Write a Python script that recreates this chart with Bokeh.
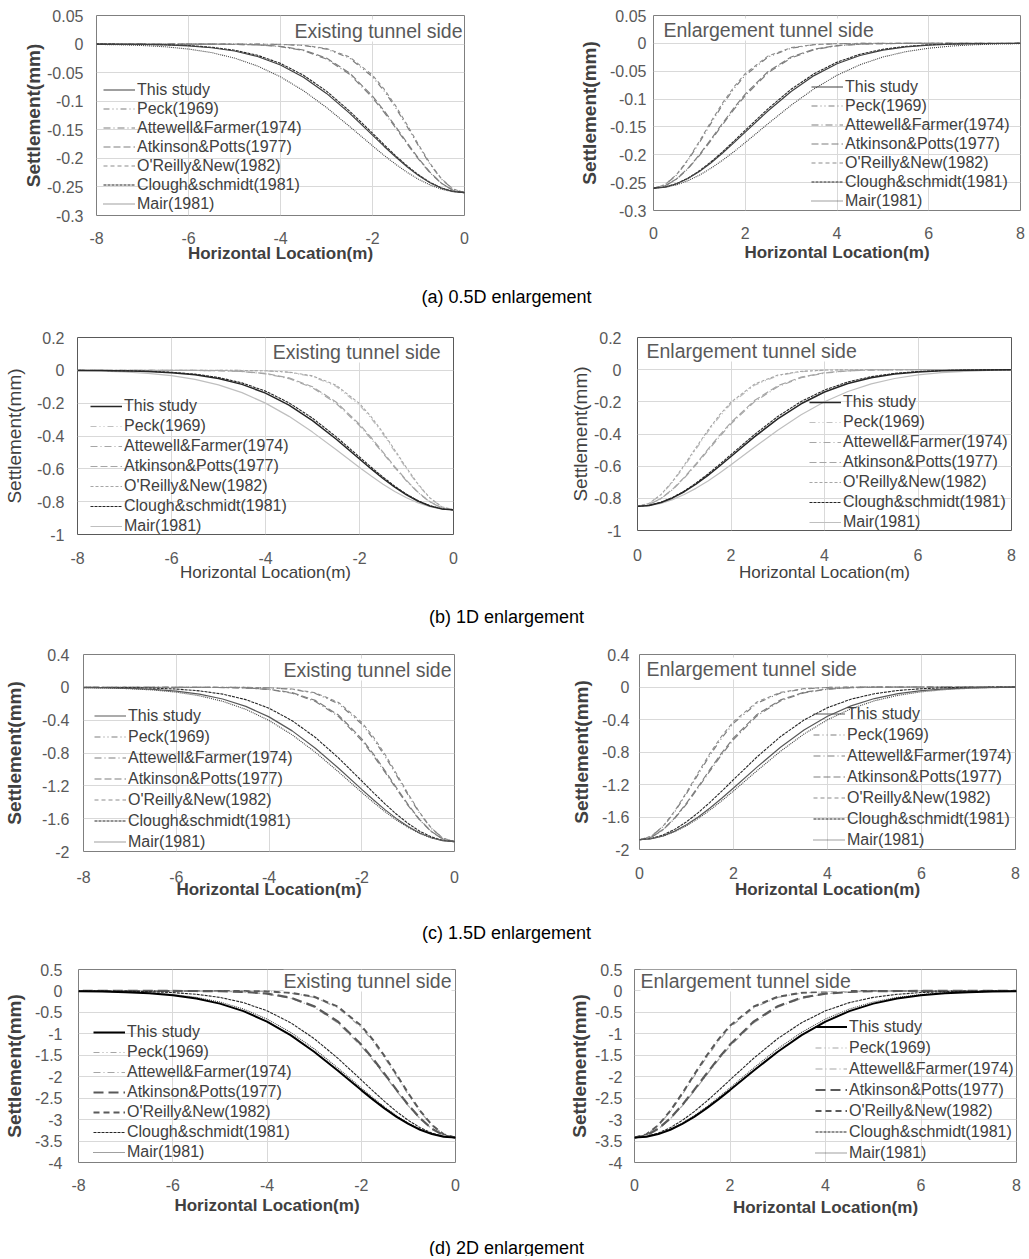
from bokeh.plotting import figure
from bokeh.models import Range1d, FixedTicker, CustomJSTickFormatter, Legend, LegendItem, Label
from bokeh.layouts import column, row
from bokeh.embed import file_html
from bokeh.resources import INLINE

# ---------------- data ----------------
# horizontal distance from the tunnel centre (m); left panels use -x
X_M = [0, 0.25, 0.5, 0.75, 1, 1.25, 1.5, 1.75, 2, 2.5, 3, 3.5, 4, 4.5, 5, 5.5, 6, 6.5, 7, 7.5, 8]

SERIES = ["This study", "Peck(1969)", "Attewell&Farmer(1974)", "Atkinson&Potts(1977)",
          "O'Reilly&New(1982)", "Clough&schmidt(1981)", "Mair(1981)"]

# (a) 0.5D enlargement
A_THIS = [-0.26, -0.2580, -0.2521, -0.2427, -0.2301, -0.2147, -0.1973, -0.1787, -0.1593, -0.1209, -0.0863, -0.0579, -0.0366, -0.0218, -0.0121, -0.0064, -0.0031, -0.0015, -0.0006, -0.0003, -0.0001]
A_PECK = [-0.26, -0.2539, -0.2366, -0.2102, -0.1781, -0.1440, -0.1110, -0.0817, -0.0572, -0.0244, -0.0087, -0.0025, -0.0006, -0.0001, 0, 0, 0, 0, 0, 0, 0]
A_ATTEWELL = [-0.26, -0.2559, -0.2439, -0.2252, -0.2015, -0.1745, -0.1464, -0.1190, -0.0939, -0.0528, -0.0262, -0.0114, -0.0044, -0.0015, -0.0004, -0.0001, 0, 0, 0, 0, 0]
A_ATKINSON = [-0.26, -0.2558, -0.2435, -0.2243, -0.2000, -0.1725, -0.1440, -0.1164, -0.0910, -0.0504, -0.0245, -0.0104, -0.0039, -0.0013, -0.0004, -0.0001, 0, 0, 0, 0, 0]
A_OREILLY = [-0.26, -0.2537, -0.2357, -0.2086, -0.1758, -0.1410, -0.1077, -0.0784, -0.0543, -0.0225, -0.0077, -0.0021, -0.0005, -0.0001, 0, 0, 0, 0, 0, 0, 0]
A_CLOUGH = [-0.26, -0.2579, -0.2519, -0.2420, -0.2288, -0.2130, -0.1952, -0.1759, -0.1560, -0.1172, -0.0824, -0.0546, -0.0338, -0.0196, -0.0107, -0.0055, -0.0026, -0.0012, -0.0005, -0.0002, -0.0001]
A_MAIR = [-0.26, -0.2585, -0.2540, -0.2465, -0.2366, -0.2243, -0.2101, -0.1947, -0.1781, -0.1440, -0.1110, -0.0816, -0.0573, -0.0384, -0.0245, -0.0149, -0.0087, -0.0048, -0.0025, -0.0013, -0.0006]

# (b) 1D enlargement
B_THIS = [-0.85, -0.8440, -0.8263, -0.7975, -0.7590, -0.7120, -0.6588, -0.6007, -0.5398, -0.4182, -0.3065, -0.2120, -0.1386, -0.0856, -0.0500, -0.0275, -0.0143, -0.0071, -0.0033, -0.0014, -0.0006]
B_PECK = [-0.85, -0.8318, -0.7795, -0.6992, -0.6010, -0.4941, -0.3890, -0.2935, -0.2117, -0.0971, -0.0373, -0.0121, -0.0033, -0.0007, -0.0001, 0, 0, 0, 0, 0, 0]
B_ATTEWELL = [-0.85, -0.8378, -0.8024, -0.7463, -0.6741, -0.5922, -0.5049, -0.4185, -0.3366, -0.2002, -0.1060, -0.0500, -0.0210, -0.0078, -0.0026, -0.0008, -0.0002, 0, 0, 0, 0]
B_ATKINSON = [-0.85, -0.8375, -0.8009, -0.7436, -0.6701, -0.5862, -0.4978, -0.4103, -0.3284, -0.1923, -0.1000, -0.0462, -0.0190, -0.0069, -0.0022, -0.0006, -0.0002, 0, 0, 0, 0]
B_OREILLY = [-0.85, -0.8311, -0.7769, -0.6946, -0.5933, -0.4850, -0.3791, -0.2831, -0.2021, -0.0901, -0.0336, -0.0105, -0.0027, -0.0006, -0.0001, 0, 0, 0, 0, 0, 0]
B_CLOUGH = [-0.85, -0.8437, -0.8251, -0.7950, -0.7546, -0.7058, -0.6503, -0.5905, -0.5281, -0.4041, -0.2913, -0.1979, -0.1267, -0.0764, -0.0434, -0.0232, -0.0117, -0.0056, -0.0025, -0.0011, -0.0004]
B_MAIR = [-0.85, -0.8452, -0.8310, -0.8078, -0.7765, -0.7379, -0.6933, -0.6442, -0.5918, -0.4827, -0.3763, -0.2804, -0.1997, -0.1359, -0.0884, -0.0549, -0.0326, -0.0185, -0.0101, -0.0052, -0.0026]

# (c) 1.5D enlargement
C_THIS = [-1.88, -1.8679, -1.8321, -1.7739, -1.6956, -1.5998, -1.4901, -1.3701, -1.2436, -0.9857, -0.7418, -0.5303, -0.3600, -0.2320, -0.1421, -0.0825, -0.0457, -0.0239, -0.0119, -0.0056, -0.0025]
C_PECK = [-1.88, -1.8383, -1.7183, -1.5362, -1.3122, -1.0728, -0.8385, -0.6260, -0.4471, -0.1993, -0.0743, -0.0231, -0.0060, -0.0013, -0.0002, 0, 0, 0, 0, 0, 0]
C_ATTEWELL = [-1.88, -1.8490, -1.7589, -1.6184, -1.4403, -1.2399, -1.0323, -0.8315, -0.6478, -0.3557, -0.1711, -0.0720, -0.0265, -0.0085, -0.0024, -0.0006, -0.0001, 0, 0, 0, 0]
C_ATKINSON = [-1.88, -1.8480, -1.7554, -1.6112, -1.4290, -1.2246, -1.0141, -0.8114, -0.6274, -0.3384, -0.1592, -0.0652, -0.0233, -0.0073, -0.0020, -0.0005, 0, 0, 0, 0, 0]
C_OREILLY = [-1.88, -1.8368, -1.7132, -1.5254, -1.2964, -1.0520, -0.8148, -0.6024, -0.4253, -0.1842, -0.0664, -0.0198, -0.0049, -0.0010, -0.0002, 0, 0, 0, 0, 0, 0]
C_CLOUGH = [-1.88, -1.8654, -1.8221, -1.7523, -1.6591, -1.5465, -1.4190, -1.2820, -1.1402, -0.8607, -0.6104, -0.4066, -0.2544, -0.1496, -0.0825, -0.0429, -0.0209, -0.0096, -0.0041, -0.0017, -0.0006]
C_MAIR = [-1.88, -1.8687, -1.8354, -1.7810, -1.7076, -1.6177, -1.5142, -1.4003, -1.2797, -1.0306, -0.7911, -0.5787, -0.4034, -0.2681, -0.1698, -0.1025, -0.0588, -0.0323, -0.0169, -0.0084, -0.0040]

# (d) 2D enlargement
D_THIS = [-3.42, -3.3991, -3.3372, -3.2368, -3.1009, -2.9349, -2.7439, -2.5341, -2.3119, -1.8550, -1.4169, -1.0308, -0.7141, -0.4709, -0.2958, -0.1768, -0.1009, -0.0547, -0.0282, -0.0139, -0.0065]
D_PECK = [-3.42, -3.3466, -3.1361, -2.8132, -2.4179, -1.9880, -1.5664, -1.1809, -0.8516, -0.3906, -0.1501, -0.0486, -0.0132, -0.0030, -0.0006, 0, 0, 0, 0, 0, 0]
D_ATTEWELL = [-3.42, -3.3682, -3.2172, -2.9806, -2.6782, -2.3341, -1.9730, -1.6175, -1.2863, -0.7421, -0.3789, -0.1711, -0.0684, -0.0242, -0.0076, -0.0021, -0.0005, 0, 0, 0, 0]
D_ATKINSON = [-3.42, -3.3666, -3.2114, -2.9688, -2.6594, -2.3086, -1.9422, -1.5832, -1.2507, -0.7103, -0.3553, -0.1570, -0.0612, -0.0210, -0.0064, -0.0017, -0.0004, 0, 0, 0, 0]
D_OREILLY = [-3.42, -3.3441, -3.1259, -2.7945, -2.3872, -1.9516, -1.5253, -1.1389, -0.8133, -0.3625, -0.1351, -0.0421, -0.0109, -0.0024, -0.0003, 0, 0, 0, 0, 0, 0]
D_CLOUGH = [-3.42, -3.3934, -3.3147, -3.1878, -3.0182, -2.8132, -2.5814, -2.3322, -2.0742, -1.5657, -1.1105, -0.7397, -0.4627, -0.2722, -0.1501, -0.0780, -0.0380, -0.0174, -0.0075, -0.0030, -0.0012]
D_MAIR = [-3.42, -3.3980, -3.3328, -3.2269, -3.0845, -2.9102, -2.7107, -2.4925, -2.2623, -1.7931, -1.3495, -0.9648, -0.6549, -0.4220, -0.2586, -0.1501, -0.0831, -0.0434, -0.0216, -0.0103, -0.0046]

Y_TICKS_A = [0.05, 0, -0.05, -0.1, -0.15, -0.2, -0.25, -0.3]
Y_TICKS_B = [0.2, 0, -0.2, -0.4, -0.6, -0.8, -1]
Y_TICKS_C = [0.4, 0, -0.4, -0.8, -1.2, -1.6, -2]
Y_TICKS_D = [0.5, 0, -0.5, -1, -1.5, -2, -2.5, -3, -3.5, -4]
X_TICKS_L = [-8, -6, -4, -2, 0]
X_TICKS_R = [0, 2, 4, 6, 8]

CAPTIONS = ["(a)  0.5D  enlargement", "(b)  1D  enlargement", "(c)  1.5D  enlargement", "(d)  2D  enlargement"]
TITLE_L = ["Existing tunnel side", "Existing  tunnel  side", "Existing tunnel side", "Existing tunnel side"]
TITLE_R = ["Enlargement tunnel side", "Enlargement  tunnel  side", "Enlargement tunnel side", "Enlargement tunnel side"]
X_LABEL = "Horizontal Location(m)"
Y_LABEL = "Settlement(mm)"

ROW_DATA = [
    [A_THIS, A_PECK, A_ATTEWELL, A_ATKINSON, A_OREILLY, A_CLOUGH, A_MAIR],
    [B_THIS, B_PECK, B_ATTEWELL, B_ATKINSON, B_OREILLY, B_CLOUGH, B_MAIR],
    [C_THIS, C_PECK, C_ATTEWELL, C_ATKINSON, C_OREILLY, C_CLOUGH, C_MAIR],
    [D_THIS, D_PECK, D_ATTEWELL, D_ATKINSON, D_OREILLY, D_CLOUGH, D_MAIR],
]
ROW_YTICKS = [Y_TICKS_A, Y_TICKS_B, Y_TICKS_C, Y_TICKS_D]

# ---------------- styles ----------------
FONT = "Liberation Sans"
STYLES = [
    [("#404040", 1.2, "solid"), ("#7f7f7f", 1.2, "6 3 1 3 1 3"), ("#7f7f7f", 1.2, "7 3 1 3"),
     ("#7f7f7f", 1.2, "7 3"), ("#8c8c8c", 1.1, "4 3"), ("#262626", 1.1, "3 1"), ("#404040", 1.1, "1 1")],
    [("#262626", 1.5, "solid"), ("#bfbfbf", 1.2, "6 3 1 3 1 3"), ("#a6a6a6", 1.2, "7 3 1 3"),
     ("#a6a6a6", 1.2, "7 3"), ("#a6a6a6", 1.1, "3 2"), ("#262626", 1.1, "3 1"), ("#bfbfbf", 1.2, "solid")],
    [("#595959", 1.2, "solid"), ("#7f7f7f", 1.2, "6 3 1 3 1 3"), ("#7f7f7f", 1.2, "7 3 1 3"),
     ("#7f7f7f", 1.2, "7 3"), ("#8c8c8c", 1.1, "4 3"), ("#262626", 1.1, "3 1"), ("#404040", 1.1, "1 1")],
    [("#000000", 2.0, "solid"), ("#a6a6a6", 1.2, "6 3 1 3 1 3"), ("#a6a6a6", 1.2, "7 3 1 3"),
     ("#595959", 2.2, "10 5"), ("#595959", 2.0, "6 4"), ("#262626", 1.1, "3 1"), ("#404040", 1.1, "1 1")],
]
DRAW_ORDER = [1, 4, 2, 3, 6, 5, 0]
BOLD_LABELS = [True, False, True, True]

# geometry (px): borders / frame sizes, tick & label standoffs, legend (dx, dy, item_h), title (dx, dy)
GEOM = [
    [dict(mbl=96, fw=368, mbr=76, mbt=14, fh=200, mbb=56, yg=13, yl=0, xg=16, xl=-3, lg=(7, 2, 19), tt=(2, 15)),
     dict(mbl=113, fw=367, mbr=6, mbt=15, fh=195, mbb=60, yg=7, yl=7, xg=16, xl=1, lg=(158, 0, 19), tt=(10, 14))],
    [dict(mbl=73, fw=376, mbr=91, mbt=12, fh=197, mbb=56, yg=13, yl=9, xg=17, xl=-4, lg=(13, -2, 20), tt=(2, 14)),
     dict(mbl=93, fw=374, mbr=19, mbt=12, fh=193, mbb=60, yg=16, yl=0, xg=18, xl=-1, lg=(172, -2, 20), tt=(9, 13))],
    [dict(mbl=77, fw=371, mbr=92, mbt=14, fh=197, mbb=54, yg=14, yl=14, xg=19, xl=-6, lg=(11, -1, 21), tt=(3, 15)),
     dict(mbl=93, fw=376, mbr=17, mbt=14, fh=195, mbb=56, yg=10, yl=7, xg=17, xl=-2, lg=(174, -1, 21), tt=(7, 14))],
    [dict(mbl=73, fw=377, mbr=90, mbt=14, fh=193, mbb=58, yg=16, yl=7, xg=16, xl=2, lg=(15, 0, 20), tt=(4, 11)),
     dict(mbl=89, fw=382, mbr=15, mbt=14, fh=193, mbb=58, yg=12, yl=2, xg=16, xl=4, lg=(181, -1, 21), tt=(6, 11))],
]
CAPTION_H = [55, 50, 50, 36]
CAPTION_OFF = [26, 26, 27, 27]
PAGE_W = 1026

FMT = CustomJSTickFormatter(code="return String(Math.round(tick*1000)/1000);")


def make_panel(r, side):
    g = GEOM[r][0 if side == "L" else 1]
    yt = ROW_YTICKS[r]
    ymin, ymax = min(yt), max(yt)
    if side == "L":
        xr = Range1d(-8, 0)
        xs = [-v for v in X_M]
        xt = X_TICKS_L
    else:
        xr = Range1d(0, 8)
        xs = X_M
        xt = X_TICKS_R
    p = figure(frame_width=g["fw"], frame_height=g["fh"],
               min_border_left=g["mbl"], min_border_right=g["mbr"],
               min_border_top=g["mbt"], min_border_bottom=g["mbb"],
               x_range=xr, y_range=Range1d(ymin, ymax),
               output_backend="svg", toolbar_location=None)
    p.background_fill_color = "white"
    p.border_fill_color = "white"
    p.outline_line_color = "#7f7f7f" if r != 1 else "#595959"
    p.outline_line_width = 1

    for ax, ticks in ((p.xaxis, xt), (p.yaxis, yt)):
        ax.ticker = FixedTicker(ticks=ticks)
        ax.formatter = FMT
        ax.axis_line_color = None
        ax.major_tick_line_color = None
        ax.minor_tick_line_color = None
        ax.major_tick_in = 0
        ax.major_tick_out = 0
        ax.major_label_text_font = FONT
        ax.major_label_text_font_size = "16px"
        ax.major_label_text_color = "#595959"
        ax.axis_label_text_font = FONT
        ax.axis_label_text_color = "#404040"
        ax.axis_label_text_font_style = "bold" if BOLD_LABELS[r] else "normal"
    p.xaxis.axis_label = X_LABEL
    p.yaxis.axis_label = Y_LABEL
    p.xaxis.axis_label_text_font_size = "17px"
    p.yaxis.axis_label_text_font_size = "19px"
    p.xaxis.major_label_standoff = g["xg"]
    p.yaxis.major_label_standoff = g["yg"]
    p.xaxis.axis_label_standoff = g["xl"]
    p.yaxis.axis_label_standoff = g["yl"]

    p.xgrid.grid_line_color = "#d9d9d9"
    p.ygrid.grid_line_color = "#d9d9d9"

    renderers = [None] * 7
    for k in DRAW_ORDER:
        color, width, dash = STYLES[r][k]
        renderers[k] = p.line(xs, ROW_DATA[r][k], line_color=color, line_width=width, line_dash=dash)

    lx, ly, lh = g["lg"]
    legend = Legend(items=[LegendItem(label=SERIES[k], renderers=[renderers[k]]) for k in range(7)],
                    location=(lx, ly), orientation="vertical",
                    glyph_width=32, glyph_height=lh, label_height=lh, label_standoff=2,
                    spacing=0, padding=0, margin=0,
                    label_text_font=FONT, label_text_font_size="16px", label_text_color="#404040",
                    background_fill_alpha=0, border_line_alpha=0)
    p.add_layout(legend)

    dx, dy = g["tt"]
    xpu = 8.0 / g["fw"]
    ypu = (ymax - ymin) / g["fh"]
    if side == "L":
        tx, align, text = 0 - dx * xpu, "right", TITLE_L[r]
    else:
        tx, align, text = 0 + dx * xpu, "left", TITLE_R[r]
    ty = ymax - dy * ypu
    p.add_layout(Label(x=tx, y=ty, text=text, text_align=align, text_baseline="middle",
                       text_font=FONT, text_font_size="19.5px", text_color="#595959",
                       background_fill_color="white"))
    return p


def make_caption(r):
    h = CAPTION_H[r]
    p = figure(frame_width=PAGE_W, frame_height=h, min_border=0,
               x_range=Range1d(0, PAGE_W), y_range=Range1d(0, h),
               x_axis_location=None, y_axis_location=None,
               output_backend="svg", toolbar_location=None)
    p.grid.visible = False
    p.outline_line_color = None
    p.add_layout(Label(x=511, y=h - CAPTION_OFF[r], text=CAPTIONS[r], text_align="center",
                       text_baseline="middle", text_font=FONT, text_font_size="18px",
                       text_color="#000000"))
    return p


children = []
for r in range(4):
    children.append(row(make_panel(r, "L"), make_panel(r, "R")))
    children.append(make_caption(r))

layout = column(*children)
open("out.html", "w").write(file_html(layout, INLINE))
